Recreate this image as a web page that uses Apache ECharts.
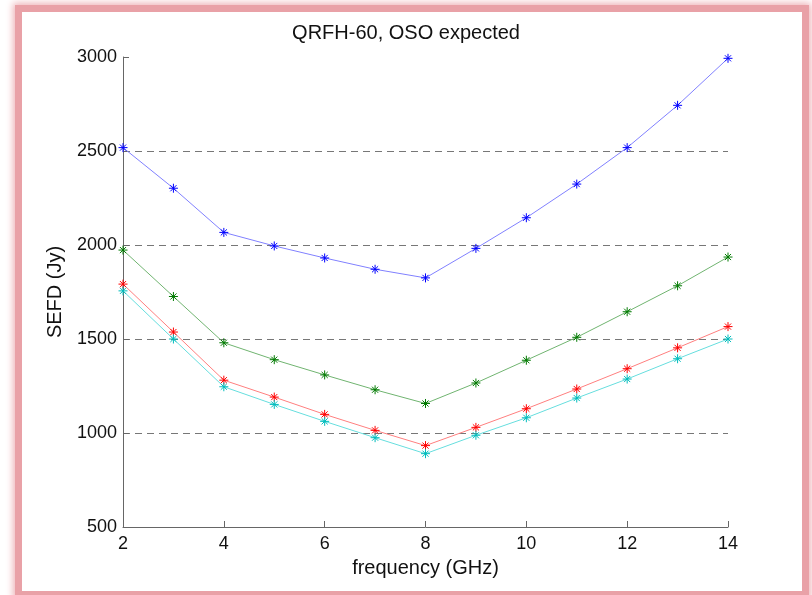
<!DOCTYPE html>
<html>
<head>
<meta charset="utf-8">
<script src="https://cdn.jsdelivr.net/npm/echarts@6/dist/echarts.min.js"></script>
<style>
  html, body { margin: 0; padding: 0; background: #ffffff; width: 812px; height: 595px; overflow: hidden; }
  #frame { position: absolute; left: 15px; top: 5px; width: 780px; height: 579px; border: 7px solid #e9a1a7; box-shadow: 0 0 7px 2px #eeb3b8; background: #ffffff; }
  #chart { position: absolute; left: 0; top: 0; width: 812px; height: 595px; }
</style>
</head>
<body>
<div id="frame"></div>
<div id="chart"></div>
<script>
const frequency = [2, 3, 4, 5, 6, 7, 8, 9, 10, 11, 12, 13, 14];
const seriesBlue  = [2518, 2302, 2067, 1995, 1931, 1871, 1825, 1982, 2145, 2324, 2518, 2743, 2993];
const seriesGreen = [1973, 1726, 1480, 1390, 1309, 1230, 1157, 1266, 1387, 1509, 1645, 1783, 1936];
const seriesRed   = [1792, 1537, 1281, 1191, 1099, 1014, 933, 1030, 1129, 1234, 1342, 1453, 1566];
const seriesCyan  = [1756, 1500, 1246, 1152, 1062, 975, 890, 988, 1081, 1186, 1287, 1395, 1500];
const yTicks = [500, 1000, 1500, 2000, 2500, 3000];
const xTicks = [2, 4, 6, 8, 10, 12, 14];

const FONT = '"Liberation Sans", Arial, Helvetica, sans-serif';
const asterisk = 'path://M5 0 L5 10 M0 5 L10 5 M1.6 1.6 L8.4 8.4 M1.6 8.4 L8.4 1.6';

function mk(name, values, lineColor, markColor) {
  return {
    name: name,
    type: 'line',
    data: frequency.map((f, i) => [f, values[i]]),
    showAllSymbol: true,
    symbol: asterisk,
    symbolSize: 9,
    lineStyle: { color: lineColor, width: 1 },
    itemStyle: { color: 'transparent', borderColor: markColor, borderWidth: 1 },
    emphasis: { disabled: true },
    animation: false
  };
}

const chart = echarts.init(document.getElementById('chart'), null, { renderer: 'canvas' });
chart.setOption({
  backgroundColor: 'transparent',
  animation: false,
  title: {
    text: 'QRFH-60, OSO expected',
    left: 'center',
    top: 23,
    padding: 0,
    textStyle: { fontFamily: FONT, fontSize: 20, fontWeight: 'normal', color: '#111' }
  },
  grid: { left: 123, right: 84, top: 57, bottom: 68, containLabel: false },
  xAxis: {
    type: 'value',
    min: xTicks[0],
    max: xTicks[xTicks.length - 1],
    interval: 2,
    name: 'frequency (GHz)',
    nameLocation: 'middle',
    nameGap: 31,
    nameTextStyle: { fontFamily: FONT, fontSize: 20, color: '#111' },
    axisLine: { show: true, lineStyle: { color: '#666', width: 1 } },
    axisTick: { show: true, inside: true, length: 6, lineStyle: { color: '#666' } },
    axisLabel: { fontFamily: FONT, fontSize: 18, color: '#111', margin: 8, formatter: v => String(v) },
    splitLine: { show: false }
  },
  yAxis: {
    type: 'value',
    min: yTicks[0],
    max: yTicks[yTicks.length - 1],
    interval: 500,
    name: 'SEFD (Jy)',
    nameLocation: 'middle',
    nameGap: 58,
    nameTextStyle: { fontFamily: FONT, fontSize: 20, color: '#111' },
    axisLine: { show: true, lineStyle: { color: '#666', width: 1 } },
    axisTick: { show: true, inside: true, length: 6, lineStyle: { color: '#666' } },
    axisLabel: { fontFamily: FONT, fontSize: 18, color: '#111', margin: 6, formatter: v => String(v) },
    splitLine: { show: true, showMinLine: false, showMaxLine: false, lineStyle: { color: '#777', type: [7, 5], width: 1 } }
  },
  series: [
    mk('blue', seriesBlue, '#8080ff', '#0000ff'),
    mk('green', seriesGreen, '#70b470', '#007a00'),
    mk('red', seriesRed, '#ff7f7f', '#ff0000'),
    mk('cyan', seriesCyan, '#66dede', '#00bcbc')
  ]
});
</script>
</body>
</html>
